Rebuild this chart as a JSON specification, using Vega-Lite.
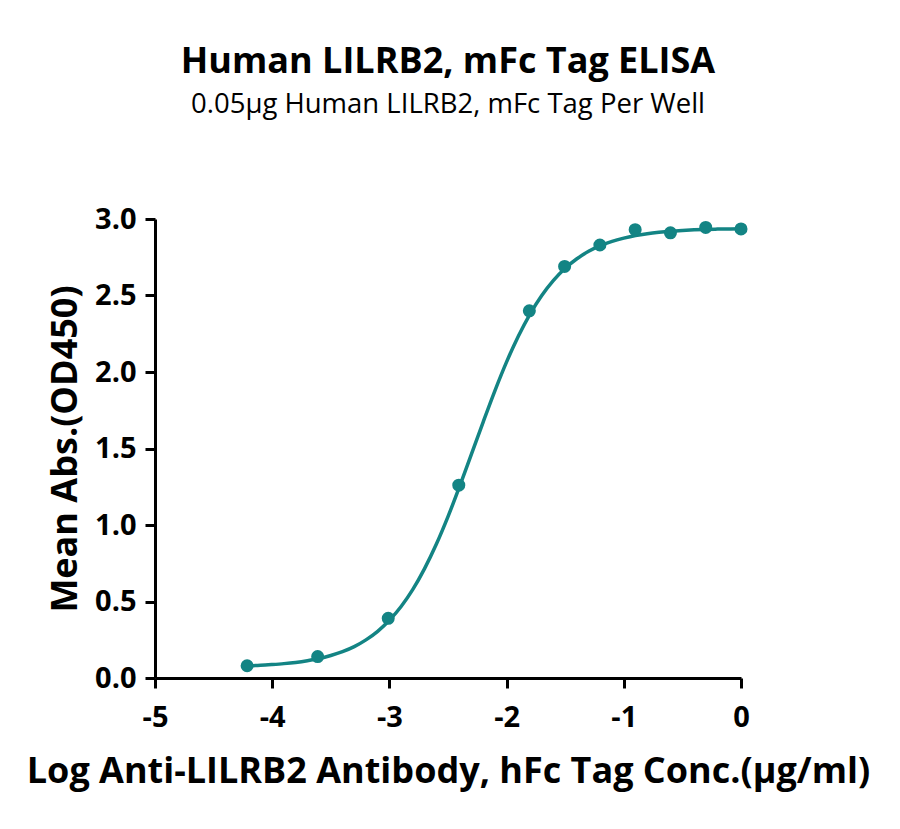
{
  "$schema": "https://vega.github.io/schema/vega-lite/v6.json",
  "width": 586,
  "height": 459,
  "autosize": "none",
  "padding": {"left": 155, "top": 219, "right": 159, "bottom": 151},
  "background": "white",
  "config": {
    "font": "Open Sans",
    "view": {"stroke": null}
  },
  "title": {
    "text": "Human LILRB2, mFc Tag ELISA",
    "subtitle": "0.05μg Human LILRB2, mFc Tag Per Well",
    "font": "Open Sans",
    "fontSize": 36,
    "fontWeight": "bold",
    "subtitleFont": "Open Sans",
    "subtitleFontSize": 27.5,
    "subtitleColor": "black",
    "subtitlePadding": 10,
    "color": "black",
    "anchor": "middle",
    "offset": 86
  },
  "datasets": {
    "points": [
      {"logconc": -4.214, "od": 0.08},
      {"logconc": -3.612, "od": 0.14},
      {"logconc": -3.010, "od": 0.39},
      {"logconc": -2.408, "od": 1.26},
      {"logconc": -1.806, "od": 2.40},
      {"logconc": -1.505, "od": 2.69},
      {"logconc": -1.204, "od": 2.83},
      {"logconc": -0.903, "od": 2.93},
      {"logconc": -0.602, "od": 2.91},
      {"logconc": -0.301, "od": 2.945},
      {"logconc": 0.0, "od": 2.935}
    ],
    "curve": [
      {"logconc": -4.21, "od": 0.080},
      {"logconc": -4.1, "od": 0.083},
      {"logconc": -4.0, "od": 0.088},
      {"logconc": -3.9, "od": 0.094},
      {"logconc": -3.8, "od": 0.102},
      {"logconc": -3.7, "od": 0.113},
      {"logconc": -3.6, "od": 0.127},
      {"logconc": -3.5, "od": 0.147},
      {"logconc": -3.4, "od": 0.172},
      {"logconc": -3.3, "od": 0.205},
      {"logconc": -3.2, "od": 0.249},
      {"logconc": -3.1, "od": 0.305},
      {"logconc": -3.0, "od": 0.377},
      {"logconc": -2.9, "od": 0.467},
      {"logconc": -2.8, "od": 0.579},
      {"logconc": -2.7, "od": 0.715},
      {"logconc": -2.6, "od": 0.874},
      {"logconc": -2.5, "od": 1.055},
      {"logconc": -2.4, "od": 1.254},
      {"logconc": -2.3, "od": 1.463},
      {"logconc": -2.2, "od": 1.673},
      {"logconc": -2.1, "od": 1.877},
      {"logconc": -2.0, "od": 2.066},
      {"logconc": -1.9, "od": 2.234},
      {"logconc": -1.8, "od": 2.379},
      {"logconc": -1.7, "od": 2.500},
      {"logconc": -1.6, "od": 2.599},
      {"logconc": -1.5, "od": 2.678},
      {"logconc": -1.4, "od": 2.740},
      {"logconc": -1.3, "od": 2.789},
      {"logconc": -1.2, "od": 2.826},
      {"logconc": -1.1, "od": 2.854},
      {"logconc": -1.0, "od": 2.875},
      {"logconc": -0.9, "od": 2.892},
      {"logconc": -0.8, "od": 2.904},
      {"logconc": -0.7, "od": 2.913},
      {"logconc": -0.6, "od": 2.920},
      {"logconc": -0.5, "od": 2.925},
      {"logconc": -0.4, "od": 2.929},
      {"logconc": -0.3, "od": 2.932},
      {"logconc": -0.2, "od": 2.934},
      {"logconc": -0.1, "od": 2.935},
      {"logconc": 0.0, "od": 2.937}
    ]
  },
  "encoding": {
    "x": {
      "field": "logconc",
      "type": "quantitative",
      "title": "Log Anti-LILRB2 Antibody, hFc Tag Conc.(μg/ml)",
      "scale": {"domain": [-5, 0], "nice": false, "zero": false},
      "axis": {
        "values": [-5, -4, -3, -2, -1, 0],
        "labelExpr": "'' + datum.value",
        "labelFlush": false,
        "labelOverlap": false,
        "grid": false,
        "domainColor": "black",
        "domainWidth": 3,
        "tickColor": "black",
        "tickWidth": 3,
        "tickSize": 10,
        "labelFont": "Open Sans",
        "labelFontSize": 29,
        "labelFontWeight": "bold",
        "labelColor": "black",
        "labelPadding": 15,
        "titleFont": "Open Sans",
        "titleFontSize": 36,
        "titleFontWeight": "bold",
        "titleColor": "black",
        "titlePadding": 22
      }
    },
    "y": {
      "field": "od",
      "type": "quantitative",
      "title": "Mean Abs.(OD450)",
      "scale": {"domain": [0, 3], "nice": false},
      "axis": {
        "values": [0, 0.5, 1, 1.5, 2, 2.5, 3],
        "format": ".1f",
        "labelFlush": false,
        "labelOverlap": false,
        "grid": false,
        "domainColor": "black",
        "domainWidth": 3,
        "tickColor": "black",
        "tickWidth": 3,
        "tickSize": 10,
        "labelFont": "Open Sans",
        "labelFontSize": 29,
        "labelFontWeight": "bold",
        "labelColor": "black",
        "labelPadding": 9,
        "titleFont": "Open Sans",
        "titleFontSize": 36,
        "titleFontWeight": "bold",
        "titleColor": "black",
        "titlePadding": 10
      }
    }
  },
  "layer": [
    {
      "data": {"name": "curve"},
      "mark": {"type": "line", "color": "#138484", "strokeWidth": 3.5, "interpolate": "monotone"}
    },
    {
      "data": {"name": "points"},
      "mark": {"type": "circle", "color": "#138484", "opacity": 1, "size": 170}
    }
  ]
}
